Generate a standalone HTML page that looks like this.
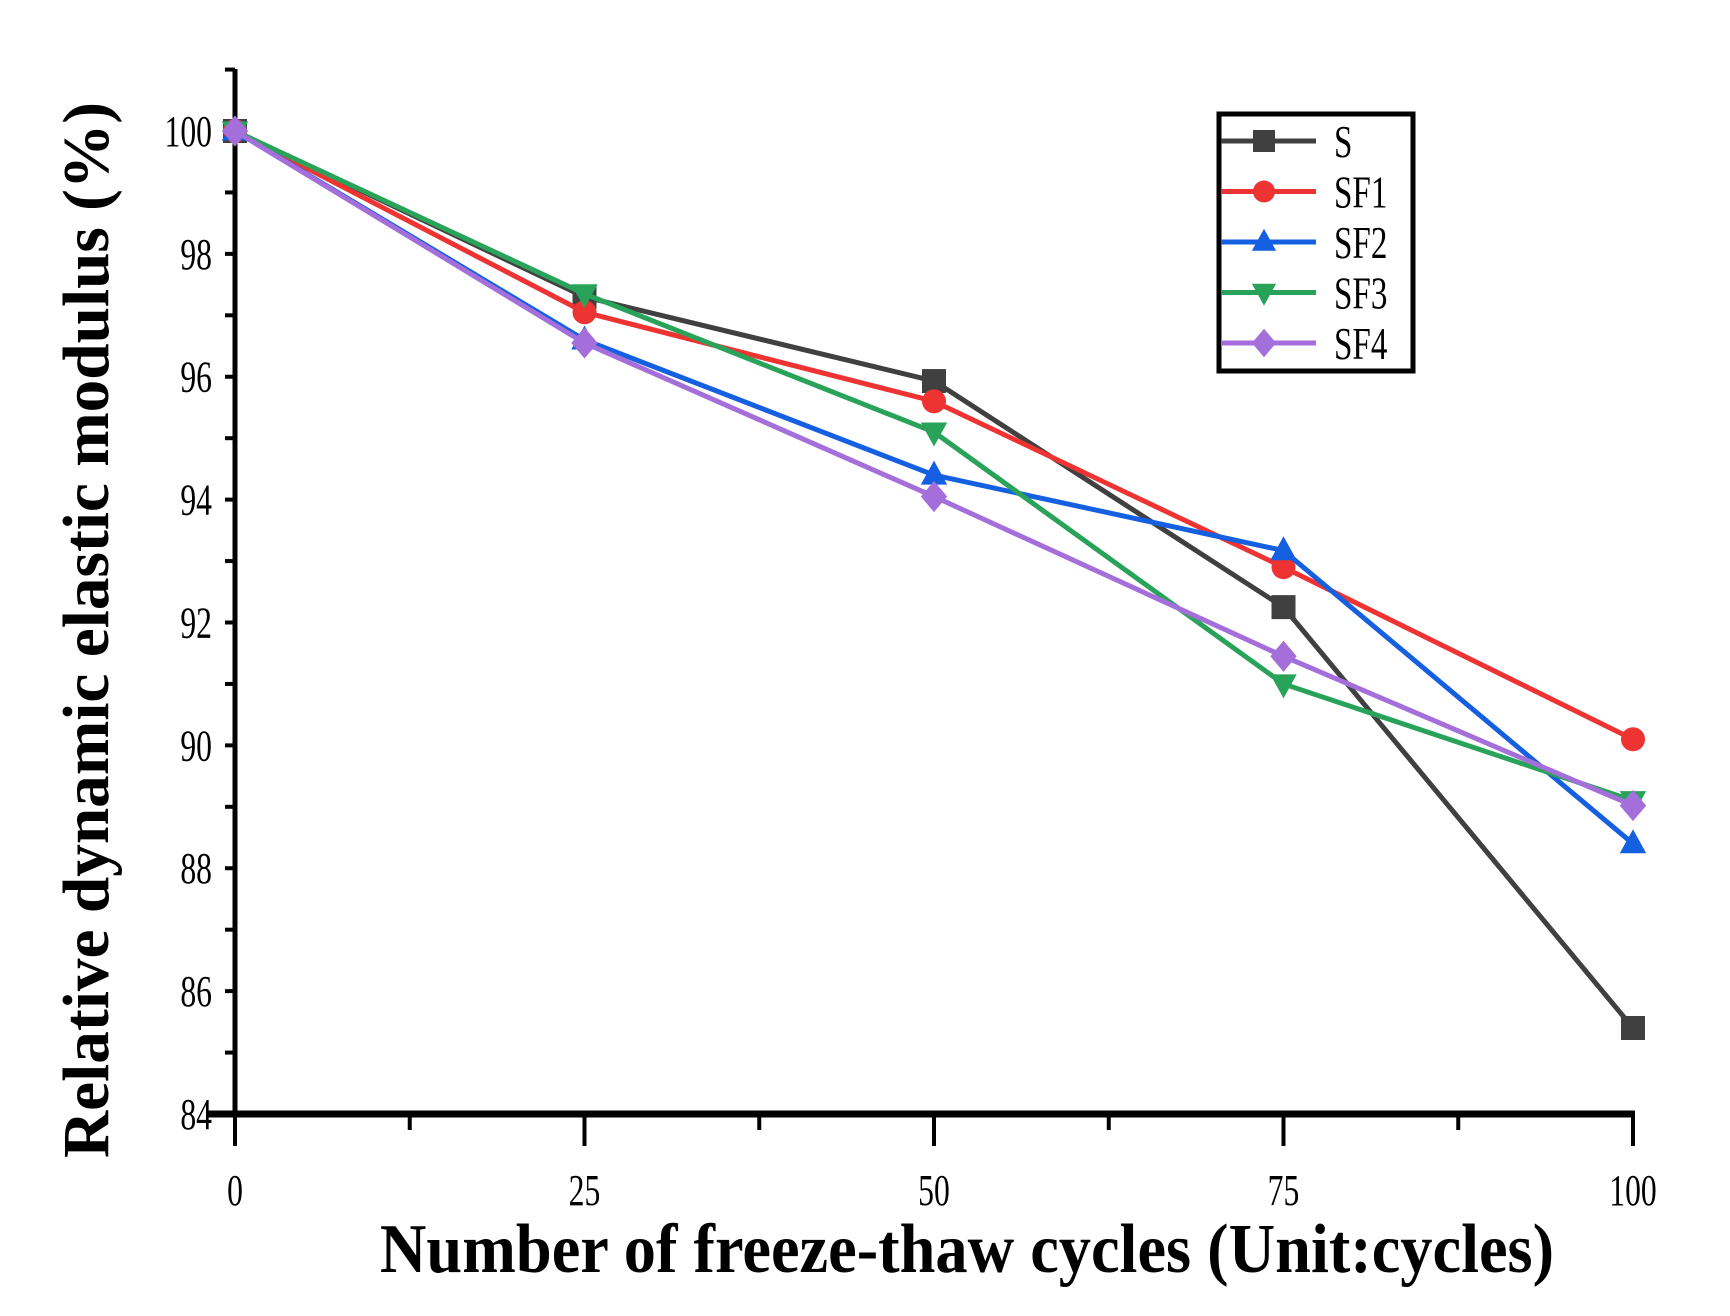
<!DOCTYPE html>
<html><head><meta charset="utf-8"><style>
html,body{margin:0;padding:0;background:#fff;}
svg{display:block;}
text{font-family:"Liberation Serif",serif;}
</style></head><body>
<svg id="chart" width="1730" height="1316" viewBox="0 0 1730 1316"></svg>
<script>
const categories=[0,25,50,75,100];
const sNames=["S","SF1","SF2","SF3","SF4"];
const sS=[100,97.3,95.93,92.25,85.4];
const sSF1=[100,97.05,95.6,92.9,90.1];
const sSF2=[100,96.6,94.4,93.17,88.4];
const sSF3=[100,97.35,95.1,91.0,89.1];
const sSF4=[100,96.55,94.05,91.45,89.02];
const yTicks=[84,86,88,90,92,94,96,98,100];
const xTicks=[0,25,50,75,100];
const colors=["#404040","#ee3333","#1560e0","#2aa35a","#a56fdb"];
const markers=["square","circle","up","down","diamond"];
const series=[sS,sSF1,sSF2,sSF3,sSF4];
const NS="http://www.w3.org/2000/svg";
const svg=document.getElementById('chart');
const X0=235,X1=1633,Y0=1114,Y1=131;
const xs=v=>X0+(v-0)/(100-0)*(X1-X0);
const ys=v=>Y0-(v-84)/(100-84)*(Y0-Y1);
function el(t,a,p){const e=document.createElementNS(NS,t);for(const k in a)e.setAttribute(k,a[k]);(p||svg).appendChild(e);return e;}
const ax=el('g',{});


el('line',{x1:X0,y1:69,x2:X0,y2:Y0+3,stroke:'#000','stroke-width':5},ax);
el('line',{x1:X0-28,y1:Y0,x2:X1+2,y2:Y0,stroke:'#000','stroke-width':7},ax);
for(let v=84;v<=101;v++){const y=ys(v);el('line',{x1:X0-10,y1:y,x2:X0,y2:y,stroke:'#000','stroke-width':4},ax);}
for(let v=0;v<=100;v+=12.5){const x=xs(v);const maj=(v%25===0);el('line',{x1:x,y1:Y0,x2:x,y2:Y0+(maj?32:16),stroke:'#000','stroke-width':4},ax);}
yTicks.forEach(v=>{const t=el('text',{x:212,y:ys(v)+15,'text-anchor':'end','font-size':44,transform:`translate(212,0) scale(0.72,1) translate(-212,0)`},ax);t.textContent=v;

});
xTicks.forEach(v=>{const x=xs(v);const t=el('text',{x:x,y:1205,'text-anchor':'middle','font-size':44,transform:`translate(${x},0) scale(0.72,1) translate(${-x},0)`},ax);t.textContent=v;

});
const xt=el('text',{x:967,y:1272,'text-anchor':'middle','font-size':70,'font-weight':'bold',transform:'translate(967,0) scale(0.92,1) translate(-967,0)'});
xt.textContent='Number of freeze-thaw cycles (Unit:cycles)';


const yt=el('text',{x:0,y:0,'text-anchor':'middle','font-size':66,'font-weight':'bold',transform:'translate(108,630) rotate(-90) scale(0.99,1)'});
yt.textContent='Relative dynamic elastic modulus (%)';


function marker(type,cx,cy,c,p,s){s=s||12;
 if(type==='square')return el('rect',{x:cx-s,y:cy-s,width:2*s,height:2*s,fill:c},p);
 if(type==='circle')return el('circle',{cx,cy,r:s,fill:c},p);
 if(type==='up')return el('polygon',{points:`${cx},${cy-s*1.2} ${cx-s*1.1},${cy+s*0.8} ${cx+s*1.1},${cy+s*0.8}`,fill:c},p);
 if(type==='down')return el('polygon',{points:`${cx},${cy+s*1.2} ${cx-s*1.1},${cy-s*0.8} ${cx+s*1.1},${cy-s*0.8}`,fill:c},p);
 return el('polygon',{points:`${cx},${cy-s*1.3} ${cx+s*1.1},${cy} ${cx},${cy+s*1.3} ${cx-s*1.1},${cy}`,fill:c},p);}
series.forEach((d,i)=>{
 const g=el('g',{});
 
 
 el('polyline',{points:d.map((v,j)=>xs(categories[j])+','+ys(v)).join(' '),fill:'none',stroke:colors[i],'stroke-width':5,'stroke-linejoin':'round'},g);
 d.forEach((v,j)=>{const m=marker(markers[i],xs(categories[j]),ys(v),colors[i],g);
 
 });
});
const lg=el('g',{});


el('rect',{x:1219,y:114,width:194,height:257,fill:'#fff',stroke:'#000','stroke-width':5},lg);
sNames.forEach((n,i)=>{const y=141+i*50.5;const e=el('g',{},lg);
 
 
 el('line',{x1:1221,y1:y,x2:1316,y2:y,stroke:colors[i],'stroke-width':5},e);
 marker(markers[i],1264,y,colors[i],e,11);
 const t=el('text',{x:1334,y:y+16,'font-size':46,transform:`translate(1334,0) scale(0.72,1) translate(-1334,0)`},e);t.textContent=n;});
</script>
</body></html>
